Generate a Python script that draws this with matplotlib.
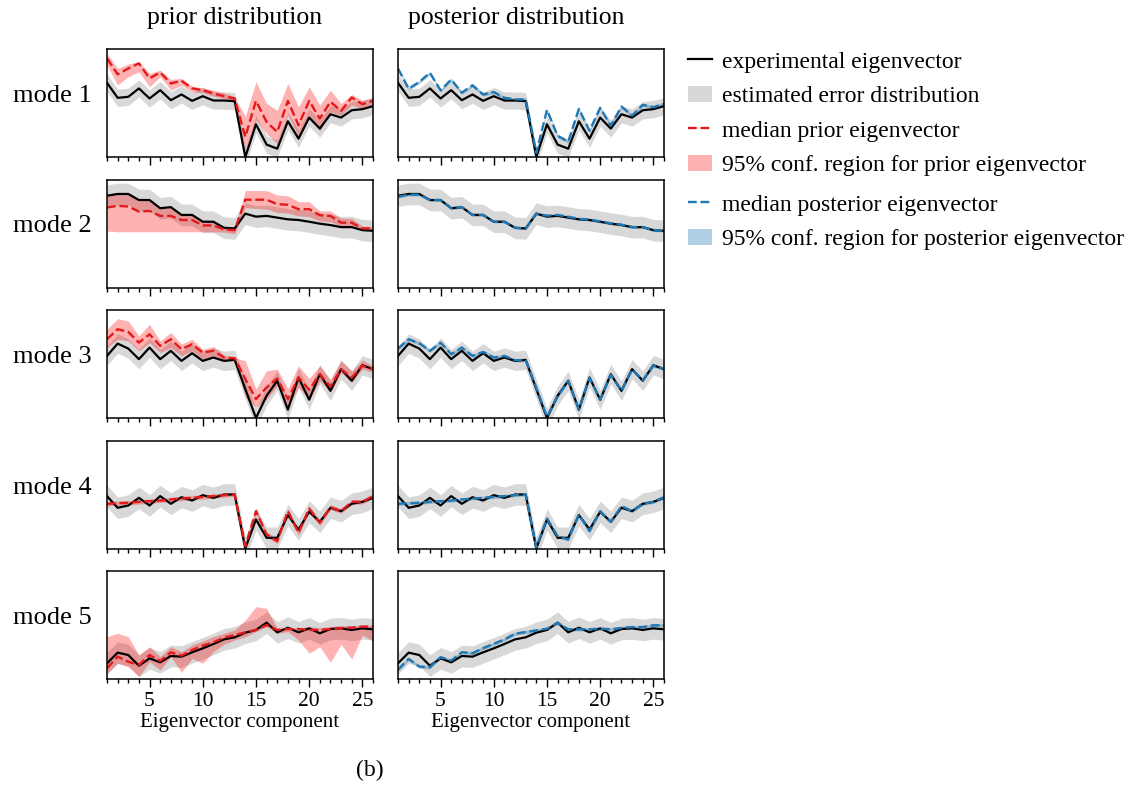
import matplotlib
matplotlib.use("Agg")
import matplotlib.pyplot as plt
from matplotlib.lines import Line2D
from matplotlib.patches import Patch
from matplotlib.ticker import MultipleLocator

plt.rcParams['font.family'] = ['Liberation Serif', 'DejaVu Serif']

# eigenvector components 1..26
comp = list(range(1, 27))

# experimental eigenvectors (scaled per mode)
exp_m1 = [0.687, 0.548, 0.557, 0.635, 0.542, 0.619, 0.526, 0.579, 0.520, 0.563, 0.523, 0.523, 0.517,
          0.0, 0.303, 0.115, 0.077, 0.331, 0.170, 0.365, 0.263, 0.396, 0.365, 0.433, 0.443, 0.471]
exp_m2 = [0.850, 0.866, 0.866, 0.810, 0.810, 0.734, 0.744, 0.672, 0.672, 0.609, 0.609, 0.553, 0.547,
          0.684, 0.656, 0.663, 0.647, 0.631, 0.625, 0.609, 0.591, 0.578, 0.559, 0.559, 0.531, 0.525]
exp_m3 = [0.575, 0.689, 0.643, 0.545, 0.652, 0.545, 0.622, 0.529, 0.600, 0.529, 0.560, 0.529, 0.538,
          0.268, 0.0, 0.206, 0.345, 0.077, 0.375, 0.169, 0.406, 0.252, 0.452, 0.345, 0.489, 0.452]
exp_m4 = [0.485, 0.377, 0.398, 0.469, 0.398, 0.485, 0.414, 0.475, 0.444, 0.494, 0.469, 0.500, 0.500,
          0.0, 0.269, 0.099, 0.099, 0.309, 0.176, 0.340, 0.247, 0.377, 0.346, 0.414, 0.432, 0.469]
exp_m5 = [0.145, 0.244, 0.222, 0.123, 0.191, 0.154, 0.213, 0.207, 0.247, 0.284, 0.324, 0.367, 0.386,
          0.429, 0.454, 0.522, 0.432, 0.475, 0.432, 0.469, 0.423, 0.463, 0.469, 0.454, 0.469, 0.460]

# half width of the estimated error band per mode
err_halfwidth = [0.08, 0.10, 0.09, 0.10, 0.10]

# median prior eigenvectors and their 95% region
prior_m1 = [0.913, 0.765, 0.820, 0.867, 0.728, 0.783, 0.681, 0.706, 0.635, 0.619, 0.588, 0.563, 0.542,
            0.186, 0.520, 0.325, 0.232, 0.520, 0.294, 0.520, 0.356, 0.511, 0.427, 0.551, 0.489, 0.520]
prior_lo_m1 = [0.851, 0.666, 0.743, 0.789, 0.650, 0.743, 0.619, 0.666, 0.604, 0.594, 0.563, 0.542, 0.520,
               0.062, 0.341, 0.217, 0.124, 0.387, 0.186, 0.387, 0.241, 0.418, 0.387, 0.480, 0.449, 0.489]
prior_hi_m1 = [0.960, 0.820, 0.861, 0.882, 0.774, 0.805, 0.718, 0.728, 0.656, 0.641, 0.619, 0.594, 0.557,
               0.378, 0.697, 0.495, 0.433, 0.681, 0.464, 0.650, 0.480, 0.619, 0.495, 0.579, 0.526, 0.551]

prior_m2 = [0.741, 0.756, 0.750, 0.703, 0.709, 0.663, 0.663, 0.625, 0.625, 0.575, 0.575, 0.538, 0.531,
            0.813, 0.813, 0.813, 0.772, 0.766, 0.725, 0.725, 0.669, 0.663, 0.600, 0.600, 0.547, 0.547]
prior_lo_m2 = [0.522, 0.516, 0.516, 0.516, 0.516, 0.516, 0.516, 0.516, 0.516, 0.516, 0.516, 0.513, 0.497,
               0.741, 0.731, 0.725, 0.694, 0.688, 0.663, 0.656, 0.616, 0.609, 0.569, 0.563, 0.531, 0.531]
prior_hi_m2 = [0.856, 0.866, 0.859, 0.810, 0.810, 0.734, 0.741, 0.669, 0.669, 0.606, 0.606, 0.553, 0.544,
               0.897, 0.897, 0.897, 0.856, 0.850, 0.794, 0.794, 0.709, 0.709, 0.641, 0.641, 0.569, 0.563]

prior_m3 = [0.729, 0.822, 0.797, 0.698, 0.775, 0.668, 0.729, 0.637, 0.683, 0.606, 0.622, 0.560, 0.554,
            0.360, 0.175, 0.283, 0.366, 0.175, 0.375, 0.262, 0.406, 0.292, 0.452, 0.375, 0.483, 0.452]
prior_lo_m3 = [0.652, 0.729, 0.714, 0.622, 0.698, 0.606, 0.652, 0.575, 0.622, 0.545, 0.575, 0.535, 0.538,
               0.191, 0.100, 0.175, 0.298, 0.100, 0.283, 0.175, 0.345, 0.237, 0.422, 0.329, 0.452, 0.422]
prior_hi_m3 = [0.822, 0.920, 0.898, 0.760, 0.868, 0.714, 0.791, 0.683, 0.729, 0.637, 0.662, 0.582, 0.560,
               0.529, 0.268, 0.437, 0.452, 0.274, 0.483, 0.366, 0.483, 0.360, 0.529, 0.437, 0.538, 0.483]

prior_m4 = [0.414, 0.420, 0.423, 0.432, 0.438, 0.444, 0.454, 0.463, 0.469, 0.478, 0.485, 0.494, 0.500,
            0.022, 0.346, 0.130, 0.068, 0.346, 0.145, 0.370, 0.238, 0.383, 0.346, 0.432, 0.432, 0.485]
prior_lo_m4 = [0.395, 0.400, 0.404, 0.412, 0.418, 0.425, 0.434, 0.443, 0.450, 0.458, 0.466, 0.475, 0.482,
               0.0, 0.315, 0.105, 0.045, 0.320, 0.120, 0.345, 0.212, 0.360, 0.325, 0.410, 0.412, 0.465]
prior_hi_m4 = [0.434, 0.440, 0.443, 0.452, 0.458, 0.464, 0.474, 0.483, 0.489, 0.498, 0.504, 0.513, 0.518,
               0.045, 0.375, 0.155, 0.092, 0.372, 0.170, 0.395, 0.262, 0.406, 0.368, 0.454, 0.452, 0.505]

prior_m5 = [0.099, 0.207, 0.160, 0.130, 0.222, 0.167, 0.247, 0.216, 0.269, 0.309, 0.340, 0.383, 0.407,
            0.432, 0.454, 0.500, 0.454, 0.463, 0.463, 0.454, 0.454, 0.463, 0.469, 0.475, 0.485, 0.485]
prior_lo_m5 = [0.052, 0.145, 0.114, 0.022, 0.160, 0.083, 0.207, 0.062, 0.191, 0.145, 0.253, 0.321, 0.361,
               0.392, 0.438, 0.485, 0.423, 0.438, 0.361, 0.238, 0.299, 0.154, 0.321, 0.185, 0.407, 0.352]
prior_hi_m5 = [0.392, 0.423, 0.392, 0.222, 0.299, 0.207, 0.299, 0.253, 0.315, 0.352, 0.392, 0.423, 0.454,
               0.546, 0.670, 0.654, 0.469, 0.475, 0.475, 0.485, 0.475, 0.485, 0.494, 0.494, 0.500, 0.500]

# median posterior eigenvectors
post_m1 = [0.819, 0.632, 0.695, 0.779, 0.617, 0.717, 0.595, 0.664, 0.579, 0.601, 0.548, 0.533, 0.533,
           0.040, 0.436, 0.196, 0.143, 0.445, 0.243, 0.455, 0.290, 0.467, 0.383, 0.483, 0.461, 0.492]
post_m2 = [0.840, 0.860, 0.860, 0.810, 0.810, 0.735, 0.745, 0.672, 0.672, 0.609, 0.609, 0.553, 0.547,
           0.684, 0.665, 0.672, 0.655, 0.636, 0.628, 0.612, 0.594, 0.582, 0.560, 0.560, 0.531, 0.525]
post_m3 = [0.643, 0.729, 0.692, 0.622, 0.698, 0.591, 0.652, 0.575, 0.612, 0.560, 0.575, 0.535, 0.538,
           0.280, 0.010, 0.200, 0.345, 0.080, 0.370, 0.170, 0.400, 0.250, 0.450, 0.350, 0.485, 0.455]
post_m4 = [0.414, 0.420, 0.423, 0.432, 0.438, 0.444, 0.454, 0.463, 0.469, 0.478, 0.485, 0.494, 0.500,
           0.010, 0.278, 0.114, 0.083, 0.315, 0.160, 0.346, 0.247, 0.392, 0.346, 0.414, 0.432, 0.475]
post_m5 = [0.087, 0.186, 0.115, 0.109, 0.202, 0.171, 0.248, 0.239, 0.286, 0.326, 0.366, 0.419, 0.435,
           0.450, 0.466, 0.519, 0.460, 0.460, 0.460, 0.466, 0.460, 0.472, 0.481, 0.481, 0.497, 0.497]

# half width of the posterior 95% region per mode
post_halfwidth = [0.015, 0.012, 0.015, 0.015, 0.015]

mode_names = ['mode 1', 'mode 2', 'mode 3', 'mode 4', 'mode 5']

exp_all = [exp_m1, exp_m2, exp_m3, exp_m4, exp_m5]
prior_all = [prior_m1, prior_m2, prior_m3, prior_m4, prior_m5]
prior_lo_all = [prior_lo_m1, prior_lo_m2, prior_lo_m3, prior_lo_m4, prior_lo_m5]
prior_hi_all = [prior_hi_m1, prior_hi_m2, prior_hi_m3, prior_hi_m4, prior_hi_m5]
post_all = [post_m1, post_m2, post_m3, post_m4, post_m5]

W, H = 1137, 786
fig = plt.figure(figsize=(W / 100, H / 100), dpi=100)

red = '#e31a1c'


def px_axes(x0, y0, w, h):
    """Axes placed with pixel coordinates measured from the top-left."""
    return fig.add_axes([x0 / W, 1 - (y0 + h) / H, w / W, h / H])


def style_axes(ax, bottom_row):
    ax.set_xlim(1, 26)
    ax.set_ylim(0, 1)
    ax.set_yticks([])
    ax.set_xticks([5, 10, 15, 20, 25])
    ax.xaxis.set_minor_locator(MultipleLocator(1))
    ax.tick_params(axis='x', which='major', length=6, width=1, labelsize=15.5, pad=3)
    ax.tick_params(axis='x', which='minor', length=3, width=1)
    if not bottom_row:
        ax.tick_params(axis='x', which='both', labelbottom=False)
    else:
        ax.set_xlabel('Eigenvector component', fontsize=15, labelpad=2)
    for s in ax.spines.values():
        s.set_linewidth(1.1)


col_x = [107, 398]
panel_w, panel_h = 266, 108
row_y = [49, 179.5, 310, 440.5, 571]

for i in range(5):
    x = comp
    ex = exp_all[i]
    e_lo = [v - err_halfwidth[i] for v in ex]
    e_hi = [v + err_halfwidth[i] for v in ex]

    # prior column
    ax = px_axes(col_x[0], row_y[i], panel_w, panel_h)
    ax.fill_between(x, e_lo, e_hi, color='gray', alpha=0.3, lw=0)
    ax.fill_between(x, prior_lo_all[i], prior_hi_all[i], color='red', alpha=0.3, lw=0)
    ax.plot(x, ex, color='black', lw=1.6)
    ax.plot(x, prior_all[i], color=red, ls='--', lw=1.7)
    style_axes(ax, i == 4)

    # posterior column
    ax2 = px_axes(col_x[1], row_y[i], panel_w, panel_h)
    p = post_all[i]
    ax2.fill_between(x, e_lo, e_hi, color='gray', alpha=0.3, lw=0)
    ax2.fill_between(x, [v - post_halfwidth[i] for v in p],
                     [v + post_halfwidth[i] for v in p], color='tab:blue', alpha=0.35, lw=0)
    ax2.plot(x, ex, color='black', lw=1.6)
    ax2.plot(x, p, color='tab:blue', ls='--', lw=1.7)
    style_axes(ax2, i == 4)

    # row label
    fig.text(52 / W, 1 - (row_y[i] + 47) / H, mode_names[i],
             ha='center', va='center', fontsize=19)

# column titles
fig.text(235 / W, 1 - 18 / H, 'prior distribution', ha='center', va='center', fontsize=18.5)
fig.text(516 / W, 1 - 18 / H, 'posterior distribution', ha='center', va='center', fontsize=18.5)

# legend
h1 = [Line2D([], [], color='black', lw=1.6),
      Patch(facecolor='gray', alpha=0.3, edgecolor='none'),
      Line2D([], [], color=red, ls='--', lw=1.7),
      Patch(facecolor='red', alpha=0.3, edgecolor='none')]
l1 = ['experimental eigenvector', 'estimated error distribution',
      'median prior eigenvector', '95% conf. region for prior eigenvector']
h2 = [Line2D([], [], color='tab:blue', ls='--', lw=1.7),
      Patch(facecolor='tab:blue', alpha=0.35, edgecolor='none')]
l2 = ['median posterior eigenvector', '95% conf. region for posterior eigenvector']

leg_kw = dict(loc='upper left', frameon=False, fontsize=17, handlelength=1.0,
              handletextpad=0.45, labelspacing=0.55, borderpad=0, borderaxespad=0)
fig.legend(h1, l1, bbox_to_anchor=(688 / W, 1 - 51 / H), **leg_kw)
fig.legend(h2, l2, bbox_to_anchor=(688 / W, 1 - 194 / H), **leg_kw)

fig.text(370 / W, 1 - 770 / H, '(b)', ha='center', va='center', fontsize=17)

plt.savefig('out.png', dpi=100)
